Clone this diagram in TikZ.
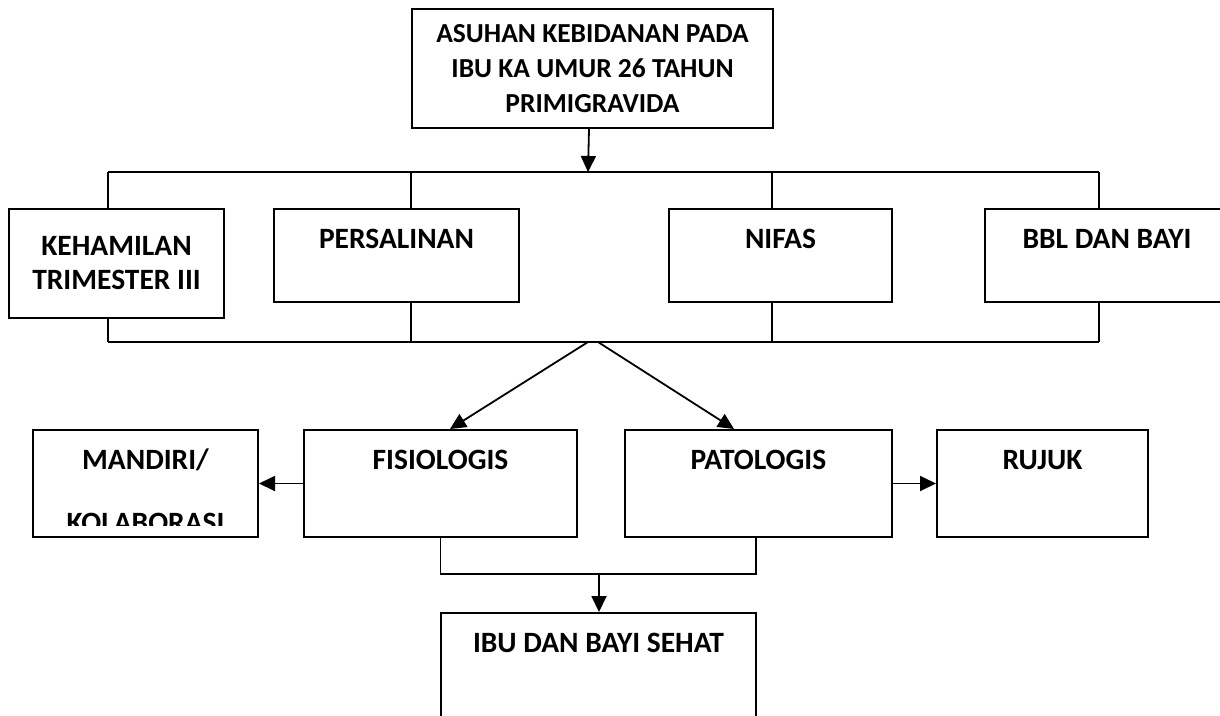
\documentclass[tikz,border=0pt]{standalone}
\usepackage{fontspec}
\setmainfont{Carlito}
\usepackage{tikz}
\usetikzlibrary{arrows.meta}
\tikzset{every node/.style={font=\bfseries\fontsize{29.5}{34}\selectfont}}

\begin{document}
\begin{tikzpicture}[x=1pt,y=-1pt,
    box/.style={draw,line width=2pt,anchor=north west,inner sep=0pt},
    toptext/.style={text height=39pt,inner ysep=0pt},
    link/.style={line width=1.8pt},
    >={Triangle[length=16pt,width=15pt]}]
    \useasboundingbox (0,0) rectangle (1220,715);
    % main box and first row
    \node[box,align=center,font=\bfseries\fontsize{27.5}{35}\selectfont,minimum width=361pt,minimum height=119pt] (asuhan) at (411,8) {ASUHAN KEBIDANAN PADA\\IBU KA UMUR 26 TAHUN\\PRIMIGRAVIDA};
    \node[box,align=center,minimum width=215pt,minimum height=109pt] (keham) at (8,208) {KEHAMILAN\\TRIMESTER III};
    \node[box,toptext,text depth=54pt,minimum width=245pt,minimum height=93pt] (persal) at (273,208) {PERSALINAN};
    \node[box,toptext,text depth=54pt,minimum width=223pt,minimum height=93pt] (nifas) at (668,208) {NIFAS};
    \node[box,toptext,text depth=54pt,minimum width=244pt,minimum height=93pt] (bbl) at (984,208) {BBL DAN BAYI};
    % second row
    \node[box,toptext,text depth=68pt,minimum width=225pt,minimum height=107pt] (mandiri) at (32,429) {MANDIRI/};
    \begin{scope}
      \clip (mandiri.north west) rectangle (257,525);
      \node[anchor=base] (kolab) at ([yshift=-103pt]mandiri.north) {KOLABORASI};
    \end{scope}
    \node[box,toptext,text depth=68pt,minimum width=273pt,minimum height=107pt] (fisio) at (303,429) {FISIOLOGIS};
    \node[box,toptext,text depth=68pt,minimum width=267pt,minimum height=107pt] (pato) at (624,429) {PATOLOGIS};
    \node[box,toptext,text depth=68pt,minimum width=211pt,minimum height=107pt] (rujuk) at (936,429) {RUJUK};
    \node[box,toptext,text depth=91pt,minimum width=315pt,minimum height=130pt] (ibu) at (440,612) {IBU DAN BAYI SEHAT};
    % bus lines
    \coordinate (topL) at (108,172);
    \coordinate (topR) at (1099,172);
    \coordinate (topA) at (588,172);
    \coordinate (botL) at (108,342);
    \coordinate (botR) at (1099,342);
    \draw[link] (topL) -- (topR);
    \draw[link] (botL) -- (botR);
    \foreach \n/\x in {keham/108,persal/411,nifas/772,bbl/1099}{
      \coordinate (t\n) at (\x,172);
      \coordinate (b\n) at (\x,342);
      \draw[link] (t\n) -- (t\n |- \n.north);
      \draw[link] (\n.south -| b\n) -- (b\n);
    }
    \draw[link,->] ([xshift=-3.5pt]asuhan.south) -- (topA);
    % split to fisiologis / patologis
    \coordinate (splitL) at (588,342);
    \coordinate (splitR) at (598,342);
    \draw[link,->] (splitL) -- ([xshift=9.5pt]fisio.north);
    \draw[link,->] (splitR) -- ([xshift=-24.5pt]pato.north);
    \draw[link,->] (fisio.west) -- (mandiri.east);
    \draw[link,->] (pato.east) -- (rujuk.west);
    % join to result
    \coordinate (join) at (599,574);
    \coordinate (patoB) at ([xshift=-2.5pt]pato.south);
    \draw[link] (fisio.south) |- (patoB |- join) -- (patoB);
    \draw[link,->] (join) -- (join |- ibu.north);
\end{tikzpicture}
\end{document}
